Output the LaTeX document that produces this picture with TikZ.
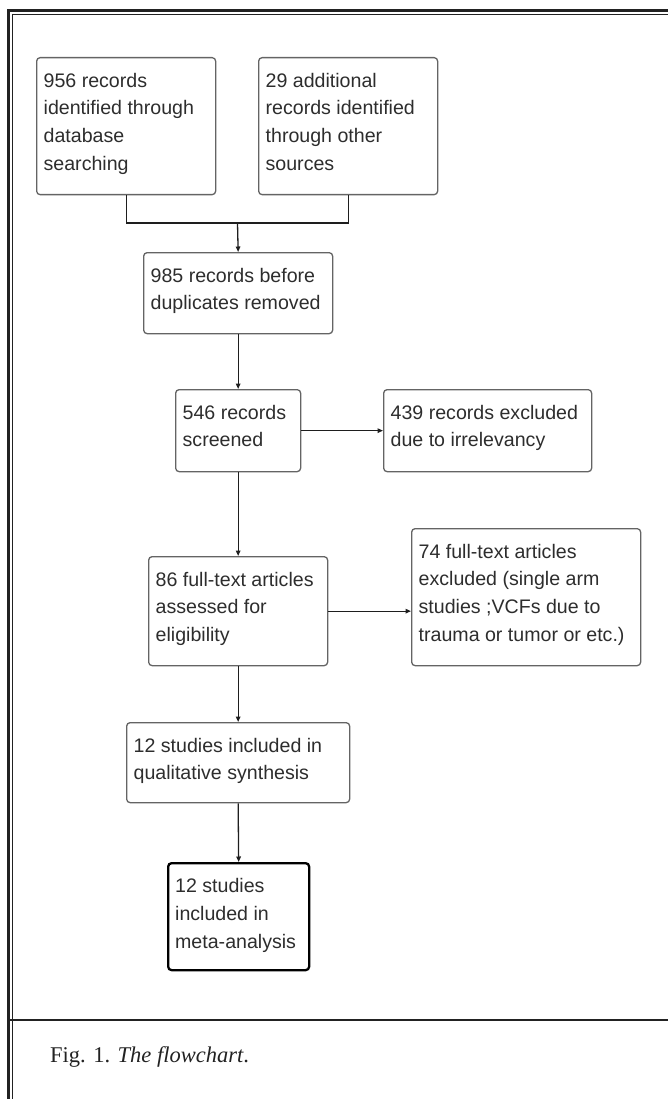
\documentclass[tikz,border=0pt]{standalone}
\usepackage{fontspec}
\setmainfont{Liberation Serif}
\newfontfamily\boxfont{Liberation Sans}
\usetikzlibrary{arrows.meta}
\definecolor{framec}{RGB}{34,34,34}
\definecolor{boxc}{RGB}{100,100,100}
\definecolor{txtc}{RGB}{45,45,45}
\definecolor{linec}{RGB}{30,30,30}
\newcommand\bxt[3]{\parbox[c][#2][t]{#1}{\boxfont\fontsize{19.6}{27.7}\selectfont\raggedright\leftskip=7pt\rule{0pt}{29.5pt}#3}}
\tikzset{
  bx/.style={draw=boxc, line width=1.3pt, rounded corners=3.5pt, inner sep=0pt, anchor=north west, text=txtc},
  bxfinal/.style={bx, draw=black, line width=2.3pt},
  conn/.style={draw=linec, line width=1.3pt},
  arr/.style={conn, -{Triangle[length=5.5pt,width=4.5pt]}}
}
\begin{document}
\begin{tikzpicture}[x=1pt,y=-1pt]
\useasboundingbox (0,0) rectangle (668,1099);
% frame
\draw[framec, line width=2.7pt] (8.7,1099) -- (8.7,10.7) -- (668,10.7);
\draw[framec, line width=1pt] (12.8,1099) -- (12.8,14.5) -- (668,14.5);
\draw[framec, line width=2pt] (7.35,1019.5) -- (668,1019.5);
% boxes
\node[bx] (A) at (36,57) {\bxt{179pt}{137pt}{956 records\\identified through\\database\\searching}};
\node[bx] (B) at (258,57) {\bxt{179pt}{137pt}{29 additional\\records identified\\through other\\sources}};
\node[bx] (C) at (143,252) {\bxt{189pt}{81pt}{985 records before\\duplicates removed}};
\node[bx] (D) at (175,389) {\bxt{125pt}{82pt}{546 records\\screened}};
\node[bx] (E) at (383,389) {\bxt{208pt}{82pt}{439 records excluded\\due to irrelevancy}};
\node[bx] (F) at (148,556) {\bxt{179pt}{109pt}{86 full-text articles\\assessed for\\eligibility}};
\node[bx] (G) at (411,528) {\bxt{229pt}{137pt}{74 full-text articles\\excluded (single arm\\studies ;VCFs due to\\trauma or tumor or etc.)}};
\node[bx] (H) at (126,722) {\bxt{223pt}{80pt}{12 studies included in\\qualitative synthesis}};
\node[bxfinal] (I) at (167,862) {\bxt{141pt}{107pt}{12 studies\\included in\\meta-analysis}};
% connectors
\coordinate (j) at (237.5,223);
\draw[conn] (A.south) |- (j) -| (B.south);
\draw[arr] (j) -- (C.north);
\draw[arr] (C.south) -- (D.north);
\draw[arr] (D.east) -- (E.west);
\draw[arr] (D.south) -- (F.north);
\draw[arr] (F.east) -- (F.east -| G.west);
\draw[arr] (F.south) -- (H.north);
\draw[arr] (H.south) -- (I.north);
% caption
\node[anchor=base west, text=framec, inner sep=0pt] (cap) at (50,1062) {\fontsize{22.5}{27}\selectfont Fig. 1. \textit{The flowchart}.};
\end{tikzpicture}
\end{document}
